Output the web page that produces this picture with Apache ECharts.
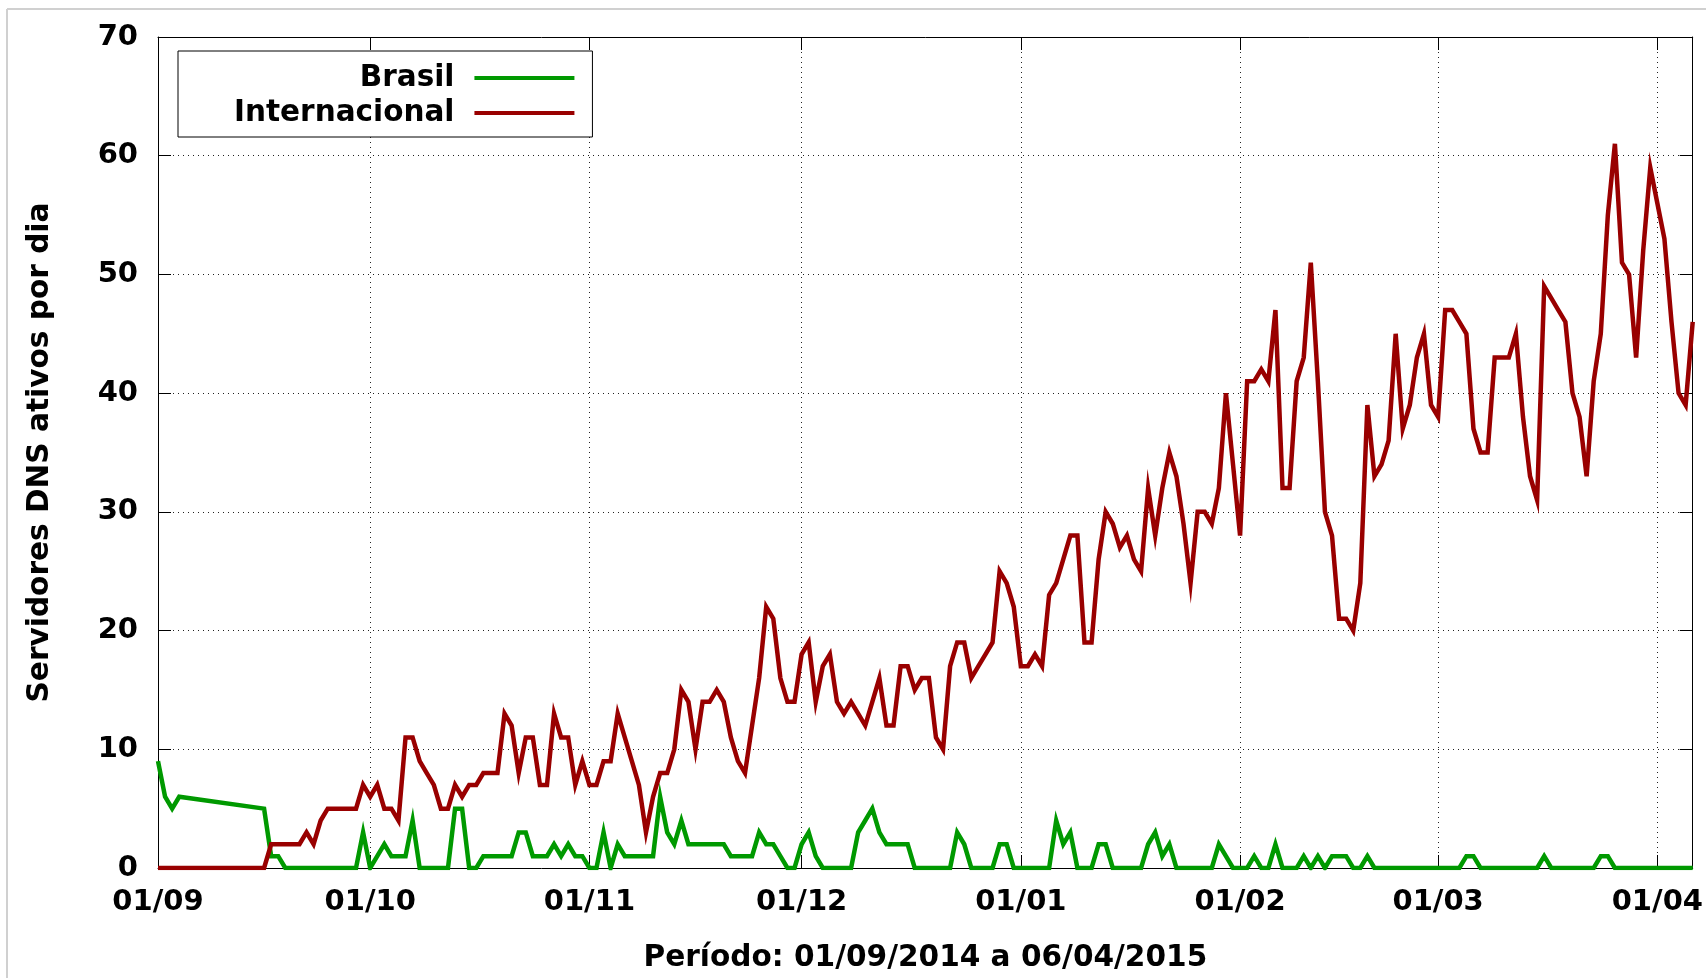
<!DOCTYPE html>
<html>
<head>
<meta charset="utf-8">
<script src="https://cdn.jsdelivr.net/npm/echarts@6/dist/echarts.min.js"></script>
<style>
html,body{margin:0;padding:0;background:#fff;}
#chart{width:1706px;height:978px;}
</style>
</head>
<body>
<div id="chart"></div>
<script>
// Daily values starting 01/09/2014 (index 0). null = no sample that day (line connects across).
var startDate = [2014, 8, 1];
var endDate = [2015, 3, 6];
var seriesNames = ['Brasil', 'Internacional'];
var yTicks = [0, 10, 20, 30, 40, 50, 60, 70];

var brasil = [
  9, 6, 5, 6, null, null, null, null, null, null,          // 0-9
  null, null, null, null, null, 5, 1, 1, 0, 0,             // 10-19
  0, 0, 0, 0, 0, 0, 0, 0, 0, 3,                            // 20-29
  0, 1, 2, 1, 1, 1, 4, 0, 0, 0,                            // 30-39
  0, 0, 5, 5, 0, 0, 1, 1, 1, 1,                            // 40-49
  1, 3, 3, 1, 1, 1, 2, 1, 2, 1,                            // 50-59
  1, 0, 0, 3, 0, 2, 1, 1, 1, 1,                            // 60-69
  1, 6, 3, 2, 4, 2, 2, 2, 2, 2,                            // 70-79
  2, 1, 1, 1, 1, 3, 2, 2, 1, 0,                            // 80-89
  0, 2, 3, 1, 0, 0, 0, 0, 0, 3,                            // 90-99
  4, 5, 3, 2, 2, 2, 2, 0, 0, 0,                            // 100-109
  0, 0, 0, 3, 2, 0, 0, 0, 0, 2,                            // 110-119
  2, 0, 0, 0, 0, 0, 0, 4, 2, 3,                            // 120-129
  0, 0, 0, 2, 2, 0, 0, 0, 0, 0,                            // 130-139
  2, 3, 1, 2, 0, 0, 0, 0, 0, 0,                            // 140-149
  2, 1, 0, 0, 0, 1, 0, 0, 2, 0,                            // 150-159
  0, 0, 1, 0, 1, 0, 1, 1, 1, 0,                            // 160-169
  0, 1, 0, 0, 0, 0, 0, 0, 0, 0,                            // 170-179
  0, 0, 0, 0, 0, 1, 1, 0, 0, 0,                            // 180-189
  0, 0, 0, 0, 0, 0, 1, 0, 0, 0,                            // 190-199
  0, 0, 0, 0, 1, 1, 0, 0, 0, 0,                            // 200-209
  0, 0, 0, 0, 0, 0, 0, 0                                   // 210-217
];

var internacional = [
  0, 0, 0, 0, null, null, null, null, null, null,          // 0-9
  null, null, null, null, null, 0, 2, 2, 2, 2,             // 10-19
  2, 3, 2, 4, 5, 5, 5, 5, 5, 7,                            // 20-29
  6, 7, 5, 5, 4, 11, 11, 9, 8, 7,                          // 30-39
  5, 5, 7, 6, 7, 7, 8, 8, 8, 13,                           // 40-49
  12, 8, 11, 11, 7, 7, 13, 11, 11, 7,                      // 50-59
  9, 7, 7, 9, 9, 13, 11, 9, 7, 3,                          // 60-69
  6, 8, 8, 10, 15, 14, 10, 14, 14, 15,                     // 70-79
  14, 11, 9, 8, 12, 16, 22, 21, 16, 14,                    // 80-89
  14, 18, 19, 14, 17, 18, 14, 13, 14, 13,                  // 90-99
  12, 14, 16, 12, 12, 17, 17, 15, 16, 16,                  // 100-109
  11, 10, 17, 19, 19, 16, 17, 18, 19, 25,                  // 110-119
  24, 22, 17, 17, 18, 17, 23, 24, 26, 28,                  // 120-129
  28, 19, 19, 26, 30, 29, 27, 28, 26, 25,                  // 130-139
  32, 28, 32, 35, 33, 29, 24, 30, 30, 29,                  // 140-149
  32, 40, 34, 28, 41, 41, 42, 41, 47, 32,                  // 150-159
  32, 41, 43, 51, 41, 30, 28, 21, 21, 20,                  // 160-169
  24, 39, 33, 34, 36, 45, 37, 39, 43, 45,                  // 170-179
  39, 38, 47, 47, 46, 45, 37, 35, 35, 43,                  // 180-189
  43, 43, 45, 38, 33, 31, 49, 48, 47, 46,                  // 190-199
  40, 38, 33, 41, 45, 55, 61, 51, 50, 43,                  // 200-209
  52, 59, 56, 53, 46, 40, 39, 46                           // 210-217
];

var colors = ['#009900', '#990000'];
var FONT = 'DejaVu Sans';

function dayTime(i) {
  return new Date(startDate[0], startDate[1], startDate[2] + i).getTime();
}
function pairs(arr) {
  return arr.map(function (v, i) { return [dayTime(i), v]; });
}
function pad(n) { return (n < 10 ? '0' : '') + n; }

var xMin = new Date(startDate[0], startDate[1], startDate[2]).getTime();
var xMax = new Date(endDate[0], endDate[1], endDate[2]).getTime();
var DAY = 86400000;

var nameStyle = { fontFamily: FONT, fontWeight: 'bold', fontSize: 29.6, color: '#000' };

var chart = echarts.init(document.getElementById('chart'), null, { renderer: 'canvas' });
chart.setOption({
  animation: false,
  backgroundColor: '#fff',
  grid: { left: 158, top: 37, right: 8, bottom: 104, containLabel: false },
  legend: {
    data: seriesNames,
    orient: 'vertical',
    left: 178,
    top: 51,
    align: 'right',
    icon: 'rect',
    itemWidth: 100,
    itemHeight: 4,
    itemGap: 1,
    padding: [10, 18, 7, 56],
    borderColor: '#000',
    borderWidth: 1,
    backgroundColor: '#fff',
    selectedMode: false,
    textStyle: { fontFamily: FONT, fontWeight: 'bold', fontSize: 29.5, color: '#000', lineHeight: 34, padding: [0, 15, 0, 0] }
  },
  xAxis: [{
    type: 'time',
    min: xMin,
    max: xMax,
    splitNumber: 7,
    minInterval: 28 * DAY,
    maxInterval: 31 * DAY,
    name: 'Período: 01/09/2014 a 06/04/2015',
    nameLocation: 'middle',
    nameGap: 75,
    nameTextStyle: nameStyle,
    axisLine: { show: true, lineStyle: { color: '#000', width: 1 } },
    axisTick: { show: true, inside: true, length: 13, lineStyle: { color: '#000' } },
    minorTick: { show: false },
    axisLabel: {
      show: true, margin: 20, showMaxLabel: false, hideOverlap: false,
      fontFamily: FONT, fontWeight: 'bold', fontSize: 29, color: '#000',
      formatter: function (v) { var d = new Date(v); return pad(d.getDate()) + '/' + pad(d.getMonth() + 1); }
    },
    splitLine: { show: true, lineStyle: { color: '#222', width: 1, type: [1, 4] } }
  }, {
    type: 'time',
    position: 'top',
    min: xMin,
    max: xMax,
    splitNumber: 7,
    minInterval: 28 * DAY,
    maxInterval: 31 * DAY,
    axisLine: { show: true, onZero: false, lineStyle: { color: '#000', width: 1 } },
    axisTick: { show: true, inside: true, length: 13, lineStyle: { color: '#000' } },
    axisLabel: { show: false },
    splitLine: { show: false }
  }],
  yAxis: [{
    type: 'value',
    min: yTicks[0],
    max: yTicks[yTicks.length - 1],
    interval: 10,
    name: 'Servidores DNS ativos por dia',
    nameLocation: 'middle',
    nameRotate: 90,
    nameGap: 103,
    nameTextStyle: nameStyle,
    axisLine: { show: true, lineStyle: { color: '#000', width: 1 } },
    axisTick: { show: true, inside: true, length: 13, lineStyle: { color: '#000' } },
    axisLabel: { margin: 20, fontFamily: FONT, fontWeight: 'bold', fontSize: 29, color: '#000' },
    splitLine: { show: true, lineStyle: { color: '#222', width: 1, type: [1, 4] } }
  }, {
    type: 'value',
    position: 'right',
    min: yTicks[0],
    max: yTicks[yTicks.length - 1],
    interval: 10,
    axisLine: { show: true, onZero: false, lineStyle: { color: '#000', width: 1 } },
    axisTick: { show: true, inside: true, length: 13, lineStyle: { color: '#000' } },
    axisLabel: { show: false },
    splitLine: { show: false }
  }],
  series: [{
    name: seriesNames[0],
    type: 'line',
    xAxisIndex: 0,
    yAxisIndex: 0,
    data: pairs(brasil),
    connectNulls: true,
    showSymbol: false,
    symbol: 'none',
    color: colors[0],
    lineStyle: { color: colors[0], width: 4.5, join: 'miter' }
  }, {
    name: seriesNames[1],
    type: 'line',
    xAxisIndex: 0,
    yAxisIndex: 0,
    data: pairs(internacional),
    connectNulls: true,
    showSymbol: false,
    symbol: 'none',
    color: colors[1],
    lineStyle: { color: colors[1], width: 4.5, join: 'miter' }
  }],
  graphic: [
    { type: 'line', shape: { x1: 7, y1: 9, x2: 1706, y2: 9 }, style: { stroke: '#d0d0d0', lineWidth: 2 }, silent: true },
    { type: 'line', shape: { x1: 7, y1: 9, x2: 7, y2: 978 }, style: { stroke: '#d0d0d0', lineWidth: 2 }, silent: true }
  ]
});
</script>
</body>
</html>
